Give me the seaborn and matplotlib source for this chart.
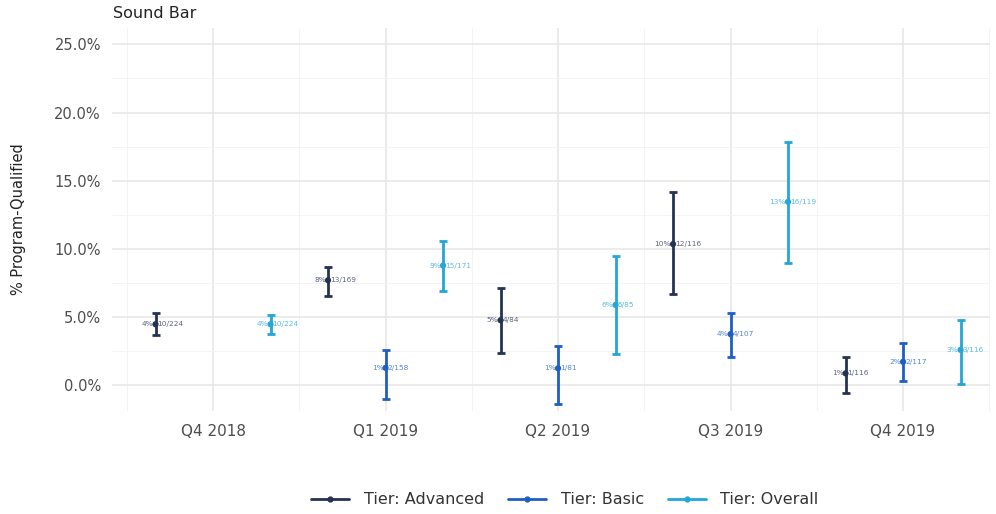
import numpy as np
import pandas as pd
import matplotlib
matplotlib.use("Agg")
import matplotlib.pyplot as plt
import seaborn as sns
from matplotlib.lines import Line2D

# Quarterly program-qualified rates for the Sound Bar category
quarters = ["Q4 2018", "Q1 2019", "Q2 2019", "Q3 2019", "Q4 2019"]
tiers = ["Advanced", "Basic", "Overall"]

adv_qualified = [10, 13, 4, 12, 1]
adv_total = [224, 169, 84, 116, 116]
adv_low = [3.67, 6.52, 2.35, 6.67, -0.59]
adv_high = [5.28, 8.65, 7.10, 14.15, 2.05]

basic_qualified = [None, 2, 1, 4, 2]
basic_total = [None, 158, 81, 107, 117]
basic_low = [None, -1.03, -1.39, 2.05, 0.29]
basic_high = [None, 2.57, 2.86, 5.28, 3.08]

overall_qualified = [10, 15, 5, 16, 3]
overall_total = [224, 171, 85, 119, 116]
overall_low = [3.74, 6.89, 2.27, 8.94, 0.07]
overall_high = [5.13, 10.56, 9.46, 17.80, 4.77]

colors = {"Advanced": "#243352", "Basic": "#1f5fc4", "Overall": "#24a6d6"}
dodge = {"Advanced": -1 / 3, "Basic": 0.0, "Overall": 1 / 3}

rows = []
series = {
    "Advanced": (adv_qualified, adv_total, adv_low, adv_high),
    "Basic": (basic_qualified, basic_total, basic_low, basic_high),
    "Overall": (overall_qualified, overall_total, overall_low, overall_high),
}
for tier, (q, n, lo, hi) in series.items():
    for i, quarter in enumerate(quarters):
        if q[i] is None:
            continue
        rows.append({
            "quarter": quarter, "qi": i, "tier": tier,
            "x": i + dodge[tier],
            "qualified": q[i], "total": n[i],
            "rate": 100 * q[i] / n[i], "low": lo[i], "high": hi[i],
        })
df = pd.DataFrame(rows)

sns.set_theme(style="whitegrid")
plt.rcParams["font.family"] = ["DejaVu Sans"]

fig = plt.figure(figsize=(9.96, 5.14), dpi=100)
ax = fig.add_axes([112 / 996, 1 - 411 / 514, (990 - 112) / 996, (411 - 28) / 514])

for tier in tiers:
    d = df[df["tier"] == tier]
    ax.errorbar(d["x"], d["rate"],
                yerr=[d["rate"] - d["low"], d["high"] - d["rate"]],
                fmt="none", ecolor=colors[tier], elinewidth=2.0,
                capsize=3, capthick=2.0, zorder=3)

sns.scatterplot(data=df, x="x", y="rate", hue="tier", palette=colors,
                hue_order=tiers, s=20, edgecolor="none", legend=False,
                ax=ax, zorder=4)

for _, r in df.iterrows():
    c = colors[r["tier"]]
    ax.annotate(f"{round(r['rate']):.0f}%", (r["x"], r["rate"]),
                xytext=(-1.5, 0), textcoords="offset points",
                ha="right", va="center", fontsize=5.3, color=c, alpha=0.75, zorder=5)
    ax.annotate(f"{r['qualified']}/{r['total']}", (r["x"], r["rate"]),
                xytext=(1.5, 0), textcoords="offset points",
                ha="left", va="center", fontsize=5.3, color=c, alpha=0.75, zorder=5)

ax.set_xlim(-0.5855, 4.504)
ax.set_ylim(-1.9, 26.2)
ax.set_xticks(range(len(quarters)))
ax.set_xticklabels(quarters)
ax.set_xticks(np.arange(-0.5, len(quarters), 1.0), minor=True)
ax.set_yticks(np.arange(0, 25.1, 5))
ax.set_yticklabels([f"{v:.1f}%" for v in np.arange(0, 25.1, 5)])
ax.set_yticks(np.arange(2.5, 25, 5), minor=True)

ax.set_facecolor("white")
for s in ax.spines.values():
    s.set_visible(False)
ax.grid(which="major", color="#e6e6e6", linewidth=1.1)
ax.grid(which="minor", color="#f2f2f2", linewidth=0.6)
ax.tick_params(axis="both", which="both", length=0, colors="#4d4d4d")
ax.tick_params(axis="y", labelsize=10.5, pad=8)
ax.tick_params(axis="x", labelsize=11, pad=9)

ax.set_xlabel("")
ax.set_ylabel("% Program-Qualified", fontsize=10.5, color="#222222", labelpad=20)
fig.text(113 / 996, 1 - 14 / 514, "Sound Bar", fontsize=11.5, color="#222222",
         ha="left", va="center")

handles = [Line2D([0], [0], color=colors[t], lw=2.0, marker="o", markersize=3.5)
           for t in tiers]
fig.legend(handles, [f"Tier: {t}" for t in tiers], loc="center",
           bbox_to_anchor=(0.567, 1 - 500 / 514), ncol=3, frameon=False,
           fontsize=11.5, labelcolor="#333333", handlelength=2.4, columnspacing=1.5,
           handletextpad=0.9)

fig.savefig("out.png", dpi=100, facecolor="white")
